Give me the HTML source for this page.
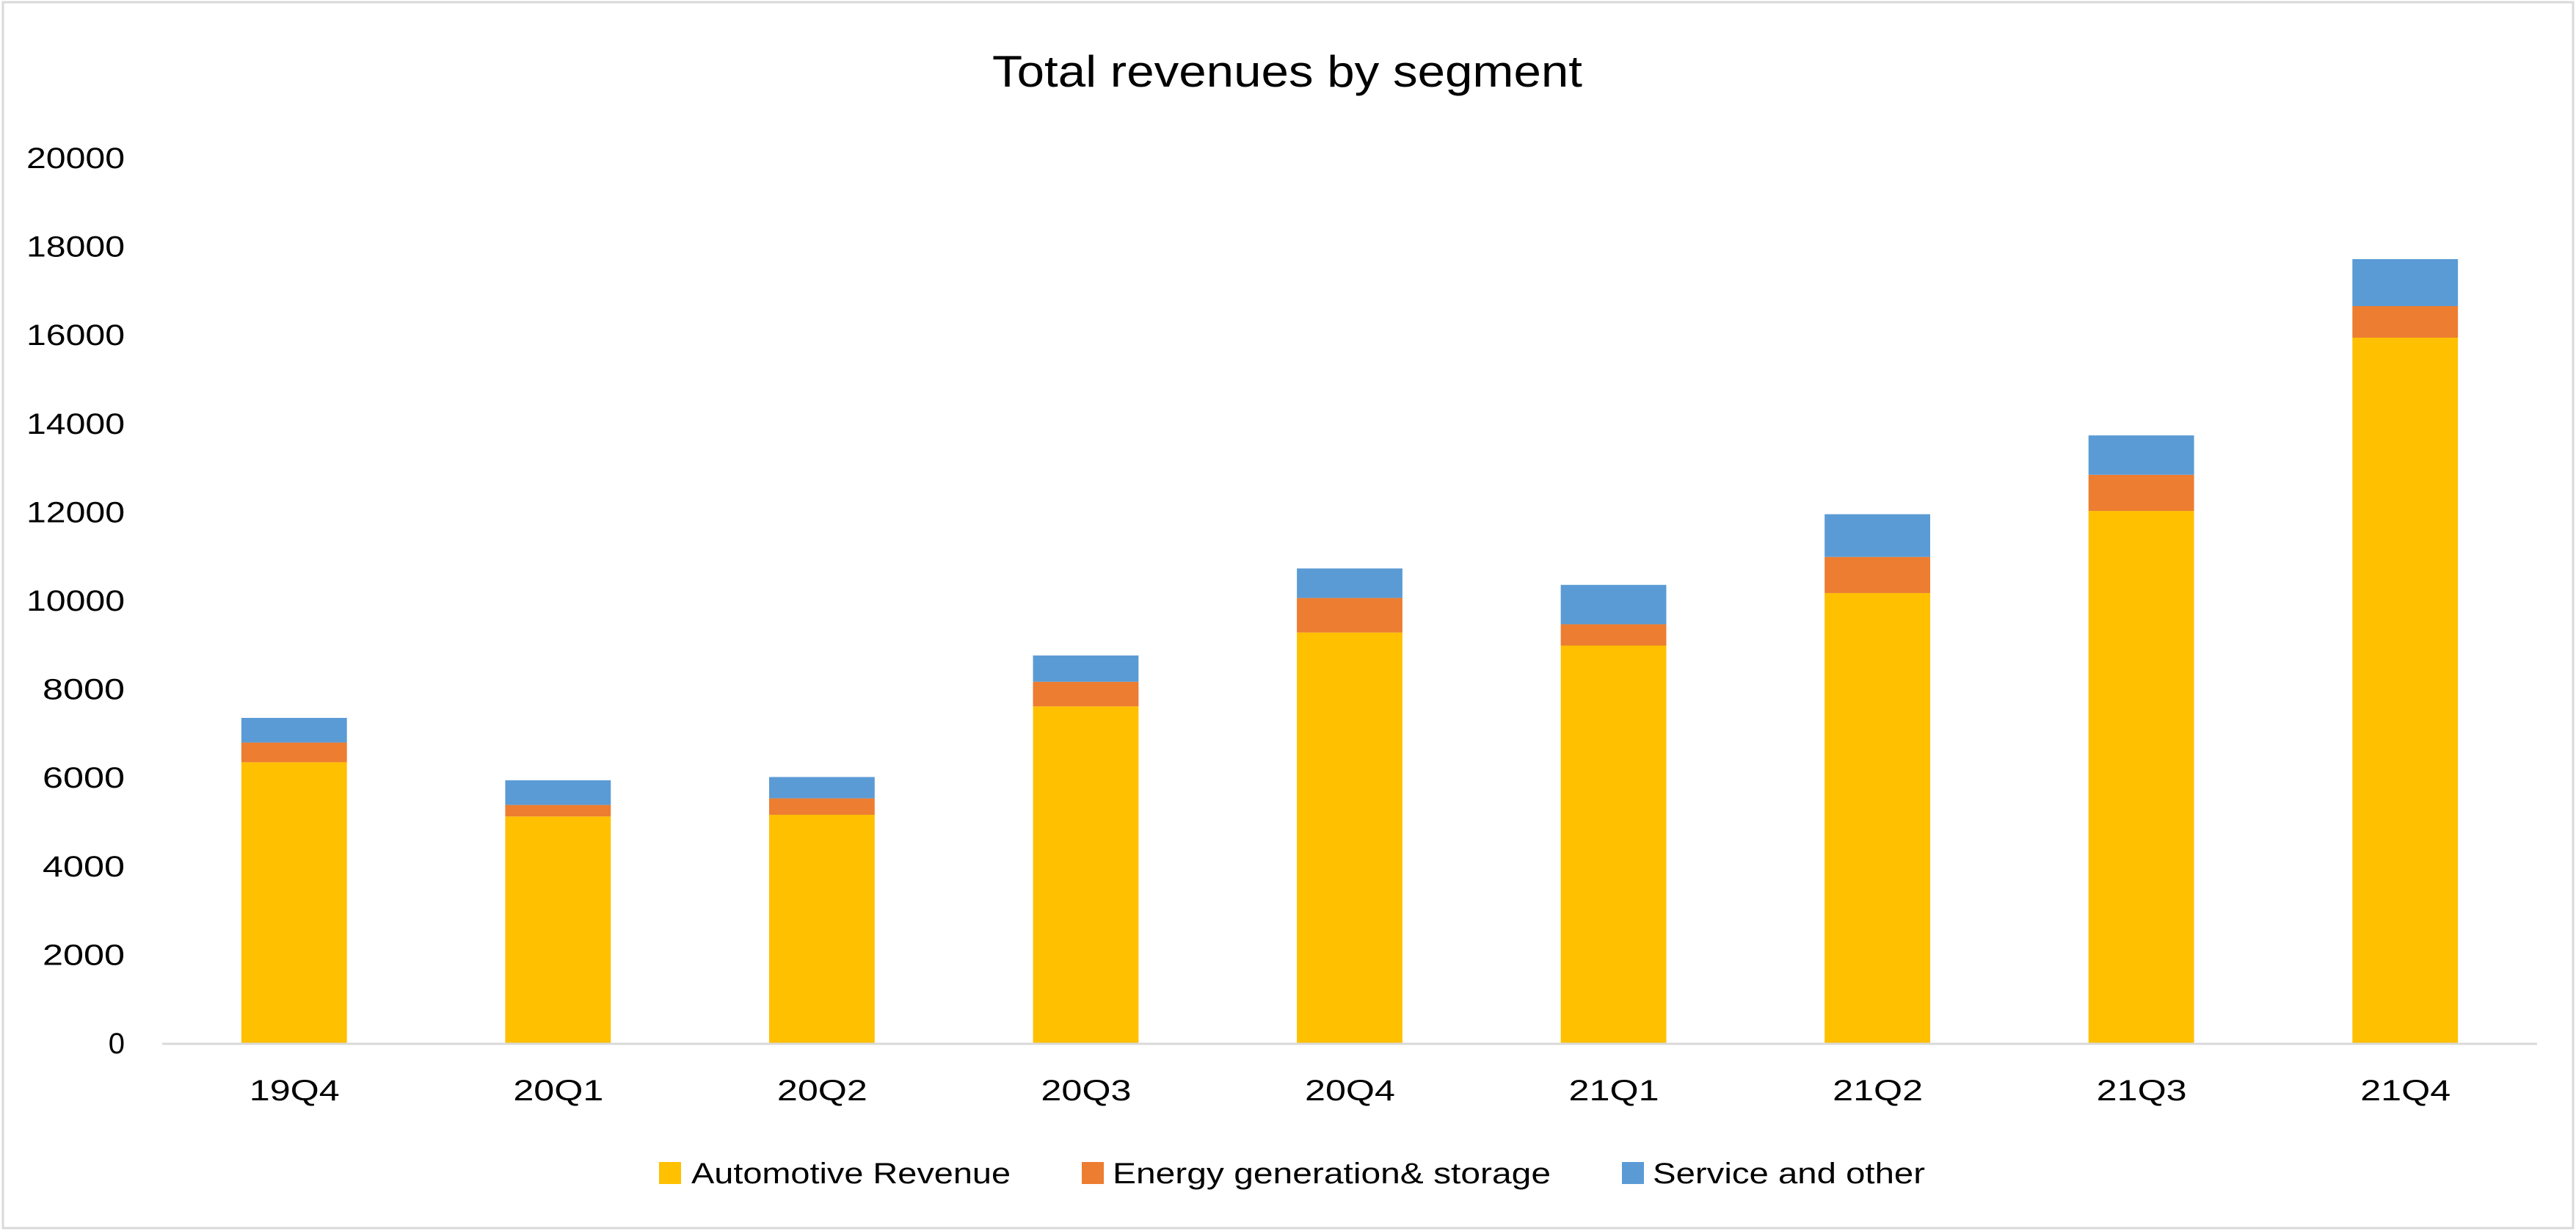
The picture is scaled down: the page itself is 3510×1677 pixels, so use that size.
<!DOCTYPE html>
<html><head><meta charset="utf-8"><style>
html,body{margin:0;padding:0;background:#fff;}
svg{display:block;font-family:"Liberation Sans",sans-serif;}
</style></head><body>
<svg id="chart" width="3510" height="1677" viewBox="0 0 3510 1677">
<rect x="4" y="3" width="3502" height="1670" fill="#fff" stroke="#d9d9d9" stroke-width="3"/>
<text x="1352" y="118" font-size="60" textLength="804" lengthAdjust="spacingAndGlyphs" fill="#000">Total revenues by segment</text>
<g id="yaxis"></g><g id="bars"></g><g id="xaxis"></g>
<g>
<rect x="898" y="1583" width="30" height="30" fill="#ffc000"/>
<text x="942" y="1612" font-size="40" textLength="435" lengthAdjust="spacingAndGlyphs">Automotive Revenue</text>
<rect x="1474" y="1583" width="30" height="30" fill="#ed7d31"/>
<text x="1516" y="1612" font-size="40" textLength="597" lengthAdjust="spacingAndGlyphs">Energy generation&amp; storage</text>
<rect x="2210" y="1583" width="30" height="30" fill="#5b9bd5"/>
<text x="2252" y="1612" font-size="40" textLength="371" lengthAdjust="spacingAndGlyphs">Service and other</text>
</g>
</svg>
<script>
const categories = ["19Q4","20Q1","20Q2","20Q3","20Q4","21Q1","21Q2","21Q3","21Q4"];
const automotive = [6345,5120,5158,7607,9276,8980,10167,12022,15937];
const energy = [445,260,371,556,780,482,816,817,713];
const service = [557,557,482,594,667,890,965,890,1062];
const yTicks = [0,2000,4000,6000,8000,10000,12000,14000,16000,18000,20000];
const NS="http://www.w3.org/2000/svg";
const plotLeft=221,plotRight=3457,plotBase=1421,plotTop=215,yMax=20000;
const band=(plotRight-plotLeft)/categories.length, bw=band*0.4;
const yScale=v=>plotBase-(v/yMax)*(plotBase-plotTop);
const xc=i=>plotLeft+band*(i+0.5);
function mk(t,a,p){const e=document.createElementNS(NS,t);for(const k in a)e.setAttribute(k,a[k]);p.appendChild(e);return e;}
const ya=document.getElementById('yaxis'),bg=document.getElementById('bars'),xa=document.getElementById('xaxis');
yTicks.forEach(v=>{const s=String(v);const a={x:170,y:yScale(v)+14,'text-anchor':'end','font-size':40};
if(s.length>1){a.textLength=s.length===5?134:112;a.lengthAdjust='spacingAndGlyphs';}
const t=mk('text',a,ya);t.textContent=s;

});
const series=[[automotive,'#ffc000','automotive'],[energy,'#ed7d31','energy'],[service,'#5b9bd5','service']];
categories.forEach((c,i)=>{let acc=0;
series.forEach(([arr,col,nm])=>{const v=arr[i];const r=mk('rect',{x:xc(i)-bw/2,y:yScale(acc+v),width:bw,height:yScale(acc)-yScale(acc+v),fill:col},bg);

acc+=v;});
const t=mk('text',{x:xc(i)-61,y:1499,'font-size':40,textLength:123,lengthAdjust:'spacingAndGlyphs'},xa);t.textContent=c;

});
const ax=mk('line',{x1:plotLeft,x2:plotRight,y1:plotBase+1,y2:plotBase+1,stroke:'#d9d9d9','stroke-width':3},xa);


</script>
</body></html>
